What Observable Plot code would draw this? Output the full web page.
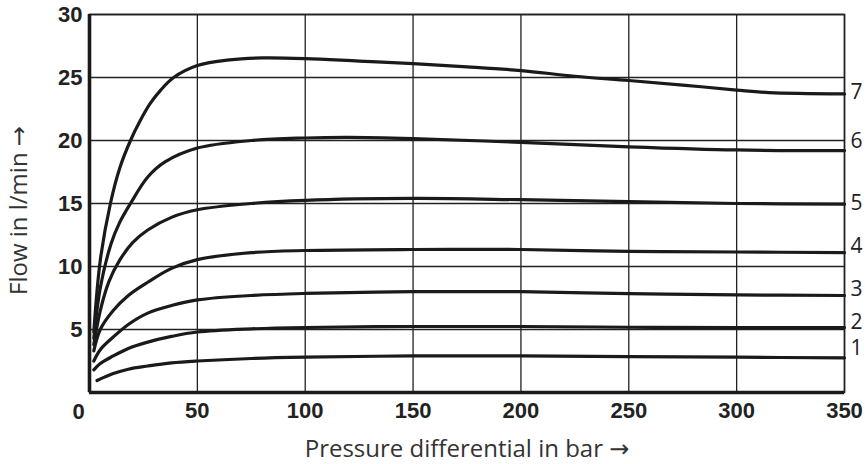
<!DOCTYPE html>
<html>
<head>
<meta charset="utf-8">
<script src="https://cdn.jsdelivr.net/npm/d3@7"></script>
<script src="https://cdn.jsdelivr.net/npm/@observablehq/plot@0.6"></script>
<style>
  html, body { margin: 0; padding: 0; background: #fff; }
  #chart svg { display: block; }
</style>
</head>
<body>
<div id="chart"></div>
<script>
// Pressure differential (bar) and flow (l/min) for each curve
const curve1P = [3.5, 11, 18, 27, 38, 50, 75, 100, 150, 200, 250, 300, 350];
const curve1Q = [0.95, 1.5, 1.85, 2.1, 2.35, 2.5, 2.7, 2.8, 2.9, 2.9, 2.85, 2.8, 2.75];

const curve2P = [2, 5, 11, 18, 27, 38, 50, 75, 100, 150, 200, 250, 300, 350];
const curve2Q = [1.8, 2.3, 2.9, 3.5, 4.0, 4.45, 4.8, 5.05, 5.16, 5.24, 5.24, 5.18, 5.15, 5.15];

const curve3P = [2, 5, 11, 18, 27, 38, 50, 75, 100, 150, 200, 250, 300, 350];
const curve3Q = [2.5, 3.4, 4.4, 5.4, 6.3, 6.9, 7.35, 7.7, 7.86, 8.0, 8.0, 7.85, 7.75, 7.7];

const curve4P = [2, 5, 11, 18, 27, 38, 50, 75, 100, 150, 200, 250, 300, 350];
const curve4Q = [3.3, 5.0, 6.5, 7.7, 8.75, 9.85, 10.55, 11.1, 11.27, 11.35, 11.35, 11.2, 11.15, 11.1];

const curve5P = [2, 5, 9, 14, 20, 27, 38, 50, 75, 100, 150, 200, 250, 300, 350];
const curve5Q = [3.8, 6.5, 8.8, 10.5, 11.9, 12.9, 13.9, 14.5, 15.0, 15.25, 15.4, 15.3, 15.15, 15.0, 14.95];

const curve6P = [2, 5, 10, 14, 19, 27, 35, 50, 75, 100, 120, 150, 200, 250, 300, 350];
const curve6Q = [4.3, 8.3, 11.8, 13.5, 15, 17.1, 18.3, 19.4, 20.0, 20.2, 20.25, 20.15, 19.85, 19.5, 19.25, 19.2];

const curve7P = [2, 5, 9.7, 14, 19, 23.6, 28, 33, 39, 50, 65, 80, 100, 125, 150, 175, 200, 225, 250, 275, 300, 315, 350];
const curve7Q = [4.8, 10.5, 15, 17.8, 20, 21.6, 22.9, 24.0, 25, 25.95, 26.4, 26.55, 26.5, 26.3, 26.1, 25.85, 25.55, 25.1, 24.76, 24.4, 24.0, 23.8, 23.7];

const curveNames = ["1", "2", "3", "4", "5", "6", "7"];
const labelFlow = [3.5, 5.6, 8.2, 11.6, 15.0, 19.9, 23.8];

const xTicks = [50, 100, 150, 200, 250, 300, 350];
const yTicks = [5, 10, 15, 20, 25, 30];
const xLabel = "Pressure differential in bar →";
const yLabel = "Flow in l/min →";

const series = [
  [curve1P, curve1Q], [curve2P, curve2Q], [curve3P, curve3Q], [curve4P, curve4Q],
  [curve5P, curve5Q], [curve6P, curve6Q], [curve7P, curve7Q]
];
const points = series.flatMap(([P, Q], i) =>
  P.map((p, j) => ({curve: curveNames[i], p, q: Q[j]})));
const labels = curveNames.map((name, i) => ({name, p: 350, q: labelFlow[i]}));

const tickFont = "'Liberation Sans', Arial, sans-serif";
const textFont = "'Open Sans', 'DejaVu Sans', sans-serif";

const chart = Plot.plot({
  width: 865,
  height: 464,
  marginLeft: 89,
  marginRight: 21,
  marginTop: 14,
  marginBottom: 72,
  x: {domain: [0, 350]},
  y: {domain: [0, 30]},
  style: {background: "#fff"},
  marks: [
    Plot.gridX(xTicks, {stroke: "#222", strokeOpacity: 1, strokeWidth: 1.3}),
    Plot.gridY(yTicks, {stroke: "#222", strokeOpacity: 1, strokeWidth: 1.3}),
    Plot.frame({stroke: "#222", strokeWidth: 1.6}),
    Plot.ruleX([0], {stroke: "#1a1a1a", strokeWidth: 3.6}),
    Plot.ruleY([0], {stroke: "#1a1a1a", strokeWidth: 3.6}),
    Plot.line(points, {x: "p", y: "q", z: "curve", curve: "catmull-rom",
      stroke: "#1a1a1a", strokeWidth: 3.2, strokeLinecap: "round", strokeLinejoin: "round"}),
    Plot.text(labels, {x: "p", y: "q", text: "name", dx: 6, textAnchor: "start",
      fontSize: 21, fill: "#222", fontFamily: textFont}),
    Plot.axisX({ticks: xTicks, tickSize: 0, tickPadding: 10, label: null,
      fontSize: 22, fontWeight: "bold", fill: "#222", fontFamily: tickFont}),
    Plot.text(["0"], {x: 0, y: 0, dx: -11, dy: 19, lineAnchor: "middle",
      fontSize: 22, fontWeight: "bold", fill: "#222", fontFamily: tickFont}),
    Plot.axisY({ticks: yTicks, tickSize: 0, tickPadding: 7, label: null,
      fontSize: 22, fontWeight: "bold", fill: "#222", fontFamily: tickFont}),
    Plot.text([xLabel], {frameAnchor: "bottom", textAnchor: "middle", dy: 64, lineAnchor: "bottom",
      fontSize: 24, fill: "#333", fontFamily: textFont}),
    Plot.text([yLabel], {frameAnchor: "left", textAnchor: "middle", dx: -70, dy: 7, rotate: -90,
      lineAnchor: "middle", fontSize: 24, fill: "#333", fontFamily: textFont})
  ]
});
document.getElementById("chart").appendChild(chart);
</script>
</body>
</html>
